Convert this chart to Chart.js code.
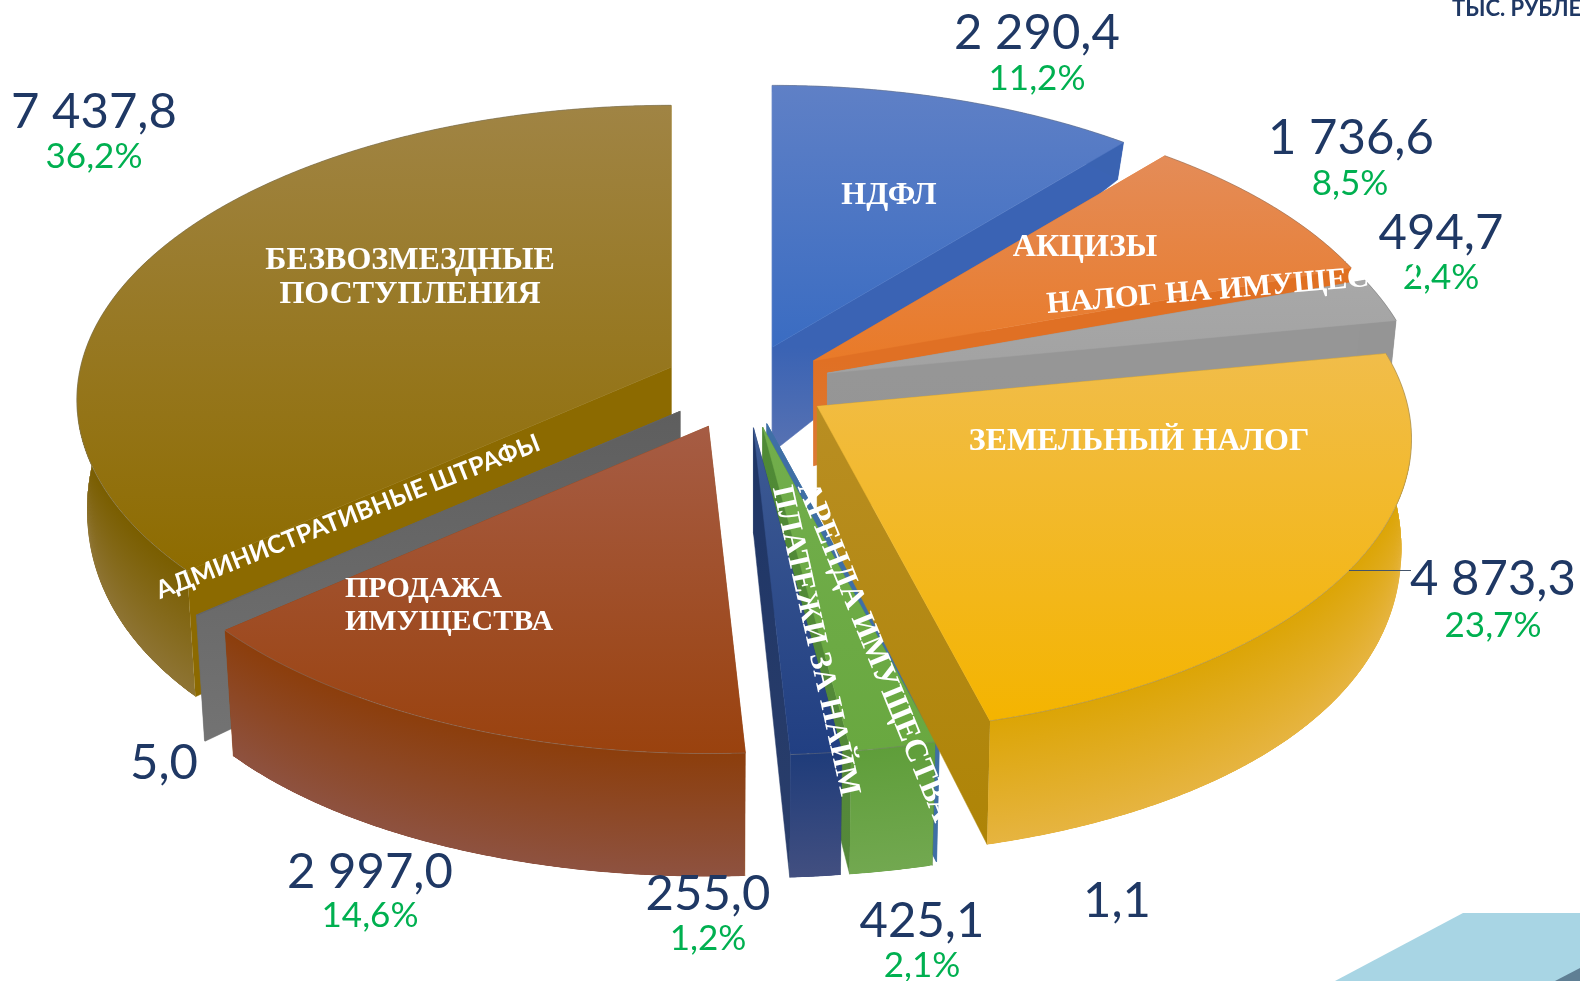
<!DOCTYPE html>
<html>
<head>
<meta charset="utf-8">
<title>Доходы бюджета</title>
<script src="https://cdn.jsdelivr.net/npm/chart.js@4"></script>
<style>
  html, body { margin: 0; padding: 0; background: #fff; overflow: hidden; }
  #wrap { position: relative; width: 1580px; height: 981px; overflow: hidden; }
  #chart { position: absolute; left: 0; top: 0; }
  .deco { position: absolute; left: 1300px; top: 900px; width: 280px; height: 81px; }
  #decoLight { background: #a8d5e4; clip-path: polygon(163px 13px, 280px 13px, 280px 81px, 35px 81px); }
  #decoDark { background: #5f7f94; clip-path: polygon(280px 68px, 280px 81px, 255px 81px); }
</style>
</head>
<body>
<div id="wrap">
  <div id="decoLight" class="deco"></div>
  <div id="decoDark" class="deco"></div>
  <canvas id="chart" width="1580" height="981"></canvas>
</div>
<script>
const categories = ['НДФЛ', 'АКЦИЗЫ', 'НАЛОГ НА ИМУЩЕСТВО', 'ЗЕМЕЛЬНЫЙ НАЛОГ', 'ПРОЧИЕ', 'АРЕНДА ИМУЩЕСТВА',
  'ПЛАТЕЖИ ЗА НАЙМ', 'ПРОДАЖА ИМУЩЕСТВА', 'АДМИНИСТРАТИВНЫЕ ШТРАФЫ', 'БЕЗВОЗМЕЗДНЫЕ ПОСТУПЛЕНИЯ'];
const values = [2290.4, 1736.6, 494.7, 4873.3, 1.1, 425.1, 255.0, 2997.0, 5.0, 7437.8];
const percentLabels = ['11,2%', '8,5%', '2,4%', '23,7%', '', '2,1%', '1,2%', '14,6%', '', '36,2%'];
const unitLabel = 'ТЫС. РУБЛЕЙ';

// explosion of each slice, px
const sliceOffsets = [40, 42, 43, 43, 42, 45, 45, 47, 43, 41];
// back to front
const drawOrder = [9, 0, 1, 2, 8, 4, 5, 6, 3, 7];

// topLight, topBase, wallTop, wallBottom, sideTop, sideBottom
const sliceStyles = [
  ['#5f80c6', '#3a6cc2', '#3a63b2', '#3a63b2', '#3a63b4', '#5872b2'],
  ['#e48c58', '#e97a28', '#e07022', '#e07022', '#e07024', '#dc7a34'],
  ['#a8a8a8', '#a2a2a2', '#959595', '#959595', '#969696', '#949494'],
  ['#f1bd4a', '#f4b400', '#dca506', '#e6b440', '#b98e22', '#ae8406'],
  ['#3f6fa5', '#3f6fa5', '#3f6fa5', '#4e78a5', '#3f6fa5', '#3f6fa5'],
  ['#72ae4c', '#69a840', '#5f9e3a', '#72a850', '#4f8a35', '#55883a'],
  ['#3e5b94', '#213f82', '#1f3c7a', '#424f80', '#1e3566', '#2a3e6b'],
  ['#a65c44', '#9a420e', '#8c3e0c', '#8e5240', '#8c3e0c', '#8c3e0c'],
  ['#636363', '#636363', '#5e5e5e', '#737373', '#5e5e5e', '#737373'],
  ['#a08444', '#8e6c00', '#7a5e00', '#8e7434', '#8c6a00', '#8c6a00']
];

// projection of the pie plane
const stretchX = 1.985;
const stretchY = 0.978;
const perspective = 0.111;
const bottomInset = 0.983;

const valueFont = '49px Lato';
const percentFont = '35px Lato';
const valueColor = '#1f3864';
const percentColor = '#00b050';
// value label centres, same order as values
const valueLabelPos = [[1037, 33], [1351, 138], [1441, 233], [1493, 579], [1117, 901], [922, 921], [708, 894], [370, 872], [164, 763], [94, 112]];
const percentLabelPos = [[1037, 79], [1350, 184], [1441, 278], [1493, 626], null, [922, 966], [708, 939], [370, 916], null, [94, 157]];

const serifBold = 'bold 32px "Liberation Serif"';
// text, x, y, rotation in degrees, font, align
const sliceNames = [
  ['НДФЛ', 889, 196, 0, serifBold, 'center'],
  ['АКЦИЗЫ', 1085, 248, 0, serifBold, 'center'],
  ['НАЛОГ НА ИМУЩЕСТВО', 1240, 289, -4.8, 'bold 30.5px "Liberation Serif"', 'center'],
  ['ЗЕМЕЛЬНЫЙ НАЛОГ', 1139, 442, 0, serifBold, 'center'],
  ['БЕЗВОЗМЕЗДНЫЕ', 410, 261, 0, serifBold, 'center'],
  ['ПОСТУПЛЕНИЯ', 410, 295, 0, serifBold, 'center'],
  ['ПРОДАЖА', 345, 589, 0, 'bold 30px "Liberation Serif"', 'left'],
  ['ИМУЩЕСТВА', 345, 622, 0, 'bold 30px "Liberation Serif"', 'left'],
  ['АДМИНИСТРАТИВНЫЕ ШТРАФЫ', 348, 517, -21.4, 'bold 25px Lato', 'center'],
  ['АРЕНДА ИМУЩЕСТВА', 874, 652, 67.8, serifBold, 'center'],
  ['ПЛАТЕЖИ ЗА НАЙМ', 815, 641, 77.5, 'bold 31px "Liberation Serif"', 'center']
];

function formatValue(v) {
  const parts = v.toFixed(1).split('.');
  return parts[0].replace(/\B(?=(\d{3})+$)/g, ' ') + ',' + parts[1];
}

function wallDepth(Y) {
  return 105 + 58 * Y - 40 * Y * Y;
}

// point on the rim of a slice, relative to its apex
function rimPoint(angle, r) {
  const X = Math.cos(angle), Y = Math.sin(angle);
  const s = 1 / (1 - perspective * Y);
  return { x: r * stretchX * X * s, y: r * stretchY * Y * s, Y: Y };
}

function vGradient(ctx, y0, y1, c0, c1) {
  const g = ctx.createLinearGradient(0, y0, 0, y1 > y0 ? y1 : y0 + 1);
  g.addColorStop(0, c0);
  g.addColorStop(1, c1);
  return g;
}

function tracePoly(ctx, pts) {
  ctx.beginPath();
  pts.forEach((p, i) => i ? ctx.lineTo(p.x, p.y) : ctx.moveTo(p.x, p.y));
  ctx.closePath();
}

function fillPoly(ctx, pts, fill) {
  tracePoly(ctx, pts);
  ctx.fillStyle = fill;
  ctx.fill();
  ctx.strokeStyle = fill;
  ctx.lineWidth = 0.5;
  ctx.stroke();
}

function drawSlice(ctx, arc, style) {
  const r = arc.outerRadius;
  const mid = (arc.startAngle + arc.endAngle) / 2;
  const e = arc.options.offset / r;
  const ax = arc.x + r * stretchX * e * Math.cos(mid);
  const ay = arc.y + r * stretchY * e * Math.sin(mid);
  const steps = Math.max(1, Math.ceil((arc.endAngle - arc.startAngle) / 0.004));

  const rim = [], floor = [];
  for (let i = 0; i <= steps; i++) {
    const p = rimPoint(arc.startAngle + (arc.endAngle - arc.startAngle) * i / steps, r);
    rim.push({ x: ax + p.x, y: ay + p.y });
    floor.push({ x: ax + p.x * bottomInset, y: ay + p.y + wallDepth(p.Y) });
  }
  const apex = { x: ax, y: ay };
  const apexLow = { x: ax, y: ay + wallDepth(0) };
  const rimYs = rim.map(p => p.y).concat(ay);
  const minY = Math.min(...rimYs), maxY = Math.max(...rimYs);
  const floorMax = Math.max(...floor.map(p => p.y), apexLow.y);

  const last = rim.length - 1;
  const sideFill = vGradient(ctx, ay, floorMax, style[4], style[5]);
  fillPoly(ctx, [apex, rim[0], floor[0], apexLow], sideFill);
  fillPoly(ctx, [apex, rim[last], floor[last], apexLow], sideFill);

  // outer wall: thin overlapping strips shaded from rim to floor, clipped to the wall outline
  ctx.save();
  tracePoly(ctx, rim.concat(floor.slice().reverse()));
  ctx.clip();
  for (let i = 0; i < last; i++) {
    const j = Math.min(i + 3, last);
    tracePoly(ctx, [rim[i], rim[j], floor[j], floor[i]]);
    ctx.fillStyle = vGradient(ctx, rim[i].y, floor[i].y, style[2], style[3]);
    ctx.fill();
  }
  ctx.restore();

  fillPoly(ctx, [apex].concat(rim), vGradient(ctx, minY, maxY, style[0], style[1]));

  ctx.beginPath();
  rim.forEach((p, i) => i ? ctx.lineTo(p.x, p.y) : ctx.moveTo(p.x, p.y));
  ctx.strokeStyle = 'rgba(120,120,120,0.45)';
  ctx.lineWidth = 1;
  ctx.stroke();
}

function drawText(ctx, text, x, y, font, color, align, angle) {
  ctx.save();
  ctx.translate(x, y);
  if (angle) ctx.rotate(angle * Math.PI / 180);
  ctx.font = font;
  ctx.fillStyle = color;
  ctx.textAlign = align || 'center';
  ctx.textBaseline = 'middle';
  ctx.fillText(text, 0, 0);
  ctx.restore();
}

const pie3d = {
  id: 'pie3d',
  beforeDatasetsDraw(chart) {
    const ctx = chart.ctx;
    const arcs = chart.getDatasetMeta(0).data;
    ctx.save();
    drawOrder.forEach(i => drawSlice(ctx, arcs[i], sliceStyles[i]));
    ctx.restore();
    return false;
  },
  afterDraw(chart) {
    const ctx = chart.ctx;
    // leader of the land tax value
    ctx.beginPath();
    ctx.moveTo(1349, 570.5);
    ctx.lineTo(1411, 570.5);
    ctx.strokeStyle = '#44546a';
    ctx.lineWidth = 1;
    ctx.stroke();

    values.forEach((v, i) => {
      drawText(ctx, formatValue(v), valueLabelPos[i][0], valueLabelPos[i][1], valueFont, valueColor);
      if (percentLabelPos[i]) {
        drawText(ctx, percentLabels[i], percentLabelPos[i][0], percentLabelPos[i][1], percentFont, percentColor);
      }
    });
    sliceNames.forEach(n => drawText(ctx, n[0], n[1], n[2], n[4], '#ffffff', n[5], n[3]));
    drawText(ctx, unitLabel, 1452, 9, 'bold 22px Lato', valueColor, 'left');
  }
};

new Chart(document.getElementById('chart'), {
  type: 'pie',
  data: {
    labels: categories,
    datasets: [{
      data: values,
      backgroundColor: sliceStyles.map(s => s[1]),
      offset: sliceOffsets,
      radius: 297.5,
      borderWidth: 0
    }]
  },
  options: {
    responsive: false,
    animation: false,
    layout: { padding: { right: 90, bottom: 213 } },
    plugins: { legend: { display: false }, tooltip: { enabled: false } }
  },
  plugins: [pie3d]
});
</script>
</body>
</html>
